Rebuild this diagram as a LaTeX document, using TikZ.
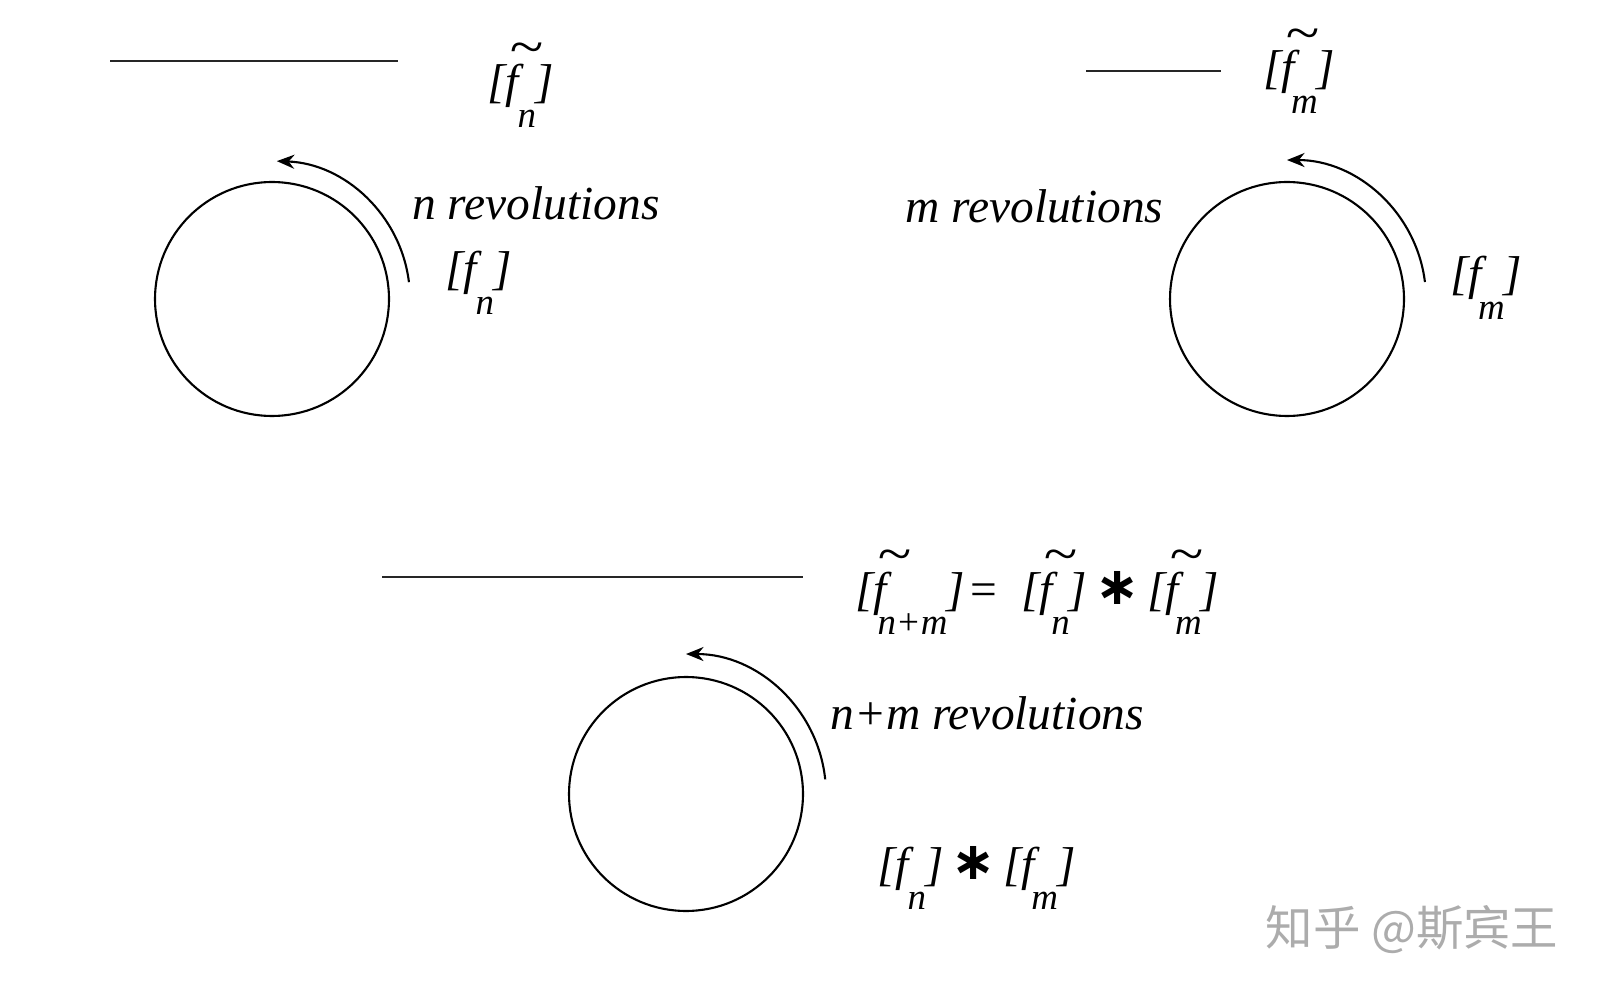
\documentclass[tikz,border=0pt]{standalone}
\usepackage{graphicx}
\usepackage{fontspec}
\setmainfont{Liberation Serif}
\newfontfamily\cjk{Noto Sans CJK SC}
\newfontfamily\symf{DejaVu Sans}
\usepackage{xcolor}
\usepackage{tikz}
\usetikzlibrary{positioning, arrows.meta}

\definecolor{wmgray}{RGB}{172,172,172}

% class of a loop: [f]_k with the index set low
\newcommand{\cls}[3][-0.03em]{[#2\kern#1\raisebox{-0.62em}{\fontsize{21}{24}\selectfont #3}\kern-0.02em]}
\newcommand{\ft}{\makebox[0pt][l]{\raisebox{0.7em}{\kern0.08em\scalebox{1.3}[1.1]{\char"7E}}}f}
\newcommand{\bigast}{\raisebox{0.02em}{{\symf\bfseries\fontsize{30}{32}\selectfont ∗}}}

\begin{document}
\begin{tikzpicture}[
			x=0.02cm, y=0.02cm,
			wheel/.style={draw, circle, line width=1.2pt, minimum size=4.68cm, inner sep=0pt},
			turn/.style={-{Stealth[length=10pt, width=8pt]}, line width=1.2pt},
			bar/.style={line width=1.2pt, black!85},
			lab/.style={inner sep=0pt, font=\fontsize{27}{30}\selectfont\itshape},
			wmark/.style={inner sep=0pt, text=wmgray, font=\fontsize{27}{30}\selectfont\cjk}
		]
		\useasboundingbox (0,0) rectangle (1602,-996);

		% Loop of n turns
		\node[wheel] (wn) at (272,-299) {};
		\coordinate (bn1) at (110,-61);
		\coordinate (bn2) at (398,-61);
		\node[lab, anchor=base west] (tfn) at (487,-98) {\cls{\ft}{n}};
		\node[lab, anchor=base west] (revn) at (412,-220) {n revolutions};
		\node[lab, anchor=base west] (fn) at (445,-285) {\cls{f}{n}};

		% Loop of m turns
		\node[wheel] (wm) at (1287,-299) {};
		\coordinate (bm1) at (1086,-71);
		\coordinate (bm2) at (1221,-71);
		\node[lab, anchor=base west] (tfm) at (1263,-84) {\cls[-0.08em]{\ft}{m}};
		\node[lab, anchor=base west] (revm) at (905,-223) {m revolutions};
		\node[lab, anchor=base west] (fm) at (1450,-290) {\cls[-0.08em]{f}{m}};

		% Loop of n+m turns
		\node[wheel] (wnm) at (686,-794) {};
		\coordinate (bnm1) at (382,-577);
		\coordinate (bnm2) at (803,-577);
		\node[lab, anchor=base west] (sum) at (855,-605) {\cls[-0.2em]{\ft}{n+m}\kern0.12em{\upshape =}\enspace\cls{\ft}{n}\,\bigast\,\cls[-0.08em]{\ft}{m}};
		\node[lab, anchor=base west] (revnm) at (830,-729) {n+m revolutions};
		\node[lab, anchor=base west] (prod) at (877,-880) {\cls{f}{n}\,\bigast\,\cls[-0.08em]{f}{m}};

		% Lines
		\draw[bar] (bn1) -- (bn2);
		\draw[bar] (bm1) -- (bm2);
		\draw[bar] (bnm1) -- (bnm2);

		% Turning arrows
		\draw[turn] (wn.center) ++(7:2.76cm) arc[start angle=7, end angle=88, radius=2.76cm];
		\draw[turn] (wm.center) ++(7:2.78cm) arc[start angle=7, end angle=90, radius=2.78cm];
		\draw[turn] (wnm.center) ++(6:2.8cm) arc[start angle=6, end angle=90, radius=2.8cm];

		% Watermark
		\node[wmark] (zhihu) at (1412,-930) {知乎 @斯宾王};

		\end{tikzpicture}
\end{document}
